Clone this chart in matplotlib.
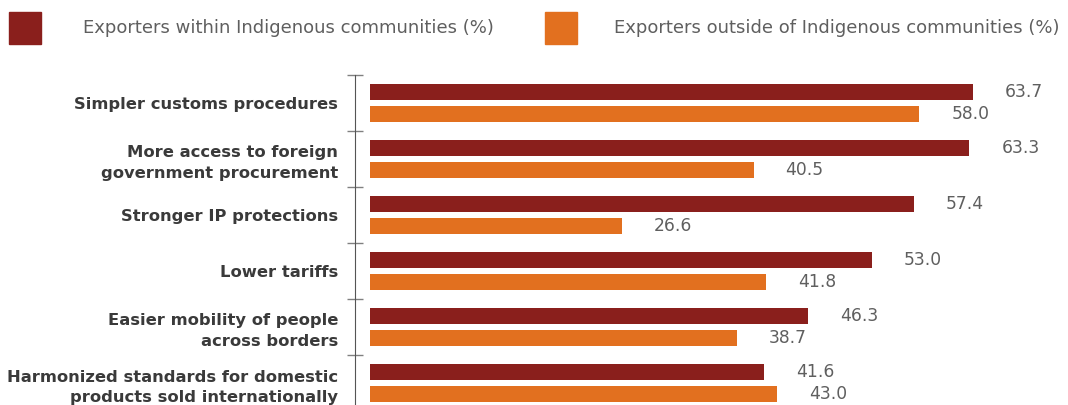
import numpy as np
import matplotlib.pyplot as plt
from matplotlib.patches import Rectangle

categories = [
    "Simpler customs procedures",
    "More access to foreign\ngovernment procurement",
    "Stronger IP protections",
    "Lower tariffs",
    "Easier mobility of people\nacross borders",
    "Harmonized standards for domestic\nproducts sold internationally",
]
within = [63.7, 63.3, 57.4, 53.0, 46.3, 41.6]
outside = [58.0, 40.5, 26.6, 41.8, 38.7, 43.0]
series_names = ["Exporters within Indigenous communities (%)",
                "Exporters outside of Indigenous communities (%)"]

dark = "#8A1F1C"
orange = "#E2701F"
gray = "#5f5f5f"

plt.rcParams['font.family'] = ['DejaVu Sans']

fig = plt.figure(figsize=(10.68, 4.05), dpi=100)
W, H = 1068, 405
ax = fig.add_axes([355 / W, 1 - 411 / H, (W - 355) / W, 336 / H])

y = np.arange(len(categories)) + 0.5
bh = 0.29
ax.barh(y - 0.19, within, height=bh, left=0, color=dark)
ax.barh(y + 0.2, outside, height=bh, left=0, color=orange)

for yi, v in zip(y - 0.19, within):
    ax.annotate(f"{v:.1f}", (v, yi), xytext=(23, 0), textcoords="offset points",
                va="center", ha="left", fontsize=12.3, color=gray)
for yi, v in zip(y + 0.2, outside):
    ax.annotate(f"{v:.1f}", (v, yi), xytext=(23, 0), textcoords="offset points",
                va="center", ha="left", fontsize=12.3, color=gray)

ax.set_xlim(-1.58, 73.7)
ax.set_ylim(len(categories), 0)

for s in ["top", "right", "bottom"]:
    ax.spines[s].set_visible(False)
ax.spines["left"].set_color("#555555")
ax.set_xticks([])
ax.set_yticks(np.arange(len(categories) + 1))
ax.set_yticklabels([])
ax.tick_params(axis="y", which="major", direction="inout", length=11.5, color="#808080", width=1)
ax.set_yticks(y, minor=True)
ax.set_yticklabels(categories, minor=True, fontsize=11.8, fontweight="bold", color="#3a3a3a",
                   linespacing=1.45)
ax.tick_params(axis="y", which="minor", length=0, pad=12)

# legend
for x0, c, name, tx in [(9, dark, series_names[0], 83), (545, orange, series_names[1], 614)]:
    fig.add_artist(Rectangle((x0 / W, 1 - 44 / H), 32 / W, 32 / H, color=c,
                             transform=fig.transFigure))
    fig.text(tx / W, 1 - 28 / H, name, fontsize=13, color=gray, va="center", ha="left")

fig.savefig("out.png", dpi=100)
